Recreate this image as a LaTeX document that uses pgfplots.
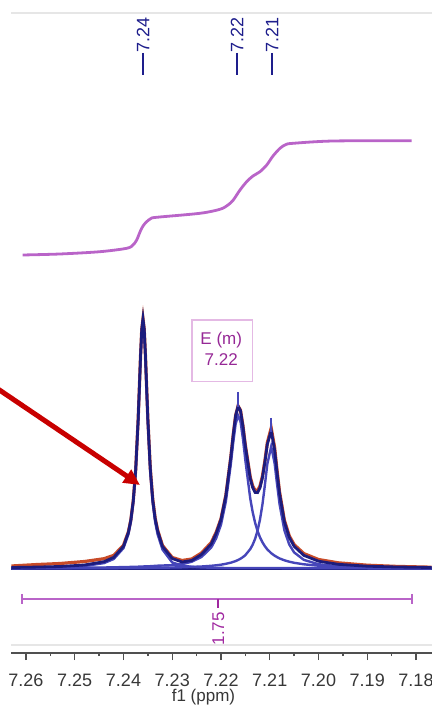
\documentclass[border=0pt]{standalone}
\usepackage{fontspec}
\setmainfont{Liberation Sans}
\usepackage{pgfplots}
\pgfplotsset{compat=1.18}
\usepackage{pgfplotstable}
\usetikzlibrary{arrows.meta}

\definecolor{sumnavy}{RGB}{28,28,125}
\definecolor{compblue}{RGB}{70,70,185}
\definecolor{datared}{RGB}{200,75,40}
\definecolor{peaklbl}{RGB}{30,30,140}
\definecolor{integ}{RGB}{185,100,200}
\definecolor{integtext}{RGB}{160,40,160}
\definecolor{boxc}{RGB}{228,185,228}
\definecolor{boxtext}{RGB}{150,40,150}
\definecolor{arrowred}{RGB}{200,0,0}
\definecolor{framegray}{RGB}{230,230,230}
\definecolor{axisgray}{RGB}{80,80,80}
\definecolor{labelgray}{RGB}{55,55,55}

% spectrum: x in ppm, y in picture units (baseline 138.5)
\pgfplotstableread{
x       sum    red    pa     pb     pc
7.263   139.5  141.0  139.0  138.9  138.7
7.258   139.9  142.4  139.2  139.0  138.7
7.253   140.5  143.5  139.7  139.1  138.7
7.248   142.0  145.5  141.0  139.3  138.8
7.244   145.3  148.3  143.9  139.5  138.9
7.242   149.6  151.6  148.0  139.7  138.9
7.240   160.7  161.7  158.9  139.9  139.0
7.239   174.6  175.1  172.6  140.0  139.0
7.2385  186.8  186.8  184.8  140.1  139.0
7.238   206.1  206.1  203.9  140.2  139.0
7.2375  237.2  237.2  234.9  140.2  139.0
7.237   286.7  286.7  284.3  140.3  139.1
7.23675 318.6  318.6  316.1  140.4  139.1
7.2365  351.5  351.5  349.0  140.4  139.1
7.23625 377.8  377.8  375.2  140.5  139.1
7.236   388.1  388.1  385.5  140.5  139.1
7.23575 377.9  377.9  375.2  140.6  139.1
7.2355  351.7  351.7  349.0  140.6  139.1
7.23525 318.9  319.2  316.1  140.6  139.1
7.235   287.2  287.7  284.3  140.7  139.2
7.2345  237.9  238.6  234.9  140.8  139.2
7.234   207.1  207.8  203.9  141.0  139.2
7.2335  188.1  188.8  184.8  141.1  139.2
7.233   176.2  176.9  172.6  141.3  139.3
7.232   160.5  161.5  157.5  141.5  139.3
7.230   148.5  149.5  144.5  141.8  139.5
7.228   145.0  146.5  141.5  142.8  139.7
7.226   146.5  148.0  140.2  145.3  140.1
7.224   152.5  154.0  139.6  150.0  140.5
7.222   163.0  164.5  139.3  159.5  141.2
7.221   173.4  174.6  139.2  168.6  141.7
7.220   187.5  188.3  139.1  182.3  142.3
7.219   211.4  211.9  139.0  205.5  143.2
7.218   249.2  249.5  139.0  242.3  144.3
7.2175  271.7  271.9  139.0  264.1  145.1
7.217   291.3  291.5  139.0  282.9  145.9
7.2165  300.9  301.0  139.0  291.5  147.0
7.216   296.3  296.8  139.0  285.6  148.3
7.2155  280.6  281.4  139.0  268.3  149.9
7.215   260.8  261.8  139.0  246.6  151.9
7.214   228.6  230.0  139.0  208.5  157.9
7.2135  219.3  221.0  139.0  194.8  162.3
7.213   214.6  216.6  139.0  184.2  168.2
7.2125  214.4  216.4  139.0  176.0  176.3
7.212   219.2  221.0  139.0  169.6  187.5
7.2115  229.3  230.8  139.0  164.7  202.5
7.211   244.7  246.0  139.0  160.8  221.8
7.2105  262.6  264.3  139.0  157.6  242.9
7.2097  276.3  279.0  139.0  153.8  260.5
7.209   257.0  259.5  139.0  151.3  243.7
7.2085  234.5  236.5  139.0  149.9  222.7
7.208   213.8  215.5  139.0  148.6  203.2
7.207   185.3  186.8  138.9  146.7  176.7
7.206   169.7  171.2  138.9  145.3  162.5
7.205   160.7  162.4  138.9  144.2  154.6
7.203   151.6  153.4  138.8  142.7  147.1
7.200   145.8  147.5  138.8  141.3  142.8
7.196   142.7  144.2  138.7  140.3  140.7
7.190   140.8  141.8  138.7  139.6  139.6
7.184   140.0  140.6  138.6  139.2  139.1
7.1768  139.5  139.8  138.6  139.0  138.9
}\spec

% integral curve
\pgfplotstableread{
x        y
7.26068  452
7.25303  453
7.24482  455.3
7.23934  458.7
7.23805  462
7.23729  467
7.23662  475
7.2360   481
7.23524  485.3
7.23436  488.5
7.23319  489.7
7.22431  493.7
7.22021  497.7
7.21856  502
7.21748  507
7.2161   517
7.21473  525.3
7.21344  531
7.2120   535.3
7.21062  542
7.20933  551
7.2079   558.7
7.20667  562.5
7.20517  563.7
7.19697  566
7.18088  566.3
}\integtab

\begin{document}
\begin{tikzpicture}
\useasboundingbox (0,0) rectangle (432bp,707bp);
\clip (0,0) rectangle (432bp,707bp);
\begin{axis}[
  at={(11bp,54bp)}, anchor=south west,
  scale only axis, width=421bp, height=653bp,
  xmin=7.176718, xmax=7.263077, x dir=reverse,
  ymin=54, ymax=707,
  axis x line*=bottom, hide y axis,
  axis line style={-, draw=axisgray, line width=1.8bp},
  x axis line style={-},
  clip=false,
  xtick={7.18,7.19,7.20,7.21,7.22,7.23,7.24,7.25,7.26},
  minor xtick={7.185,7.195,7.205,7.215,7.225,7.235,7.245,7.255},
  tick align=outside, major tick length=7bp, minor tick length=3bp,
  every tick/.style={draw=axisgray, line width=1.3bp},
  xticklabel shift=13.5bp,
  xticklabel style={font=\fontsize{18bp}{18bp}\selectfont, text=labelgray, inner sep=0pt,
    /pgf/number format/fixed, /pgf/number format/fixed zerofill,
    /pgf/number format/precision=2, /pgf/number format/assume math mode=true},
  xlabel={f1 (ppm)},
  xlabel style={at={(axis description cs:0.4572,0)}, anchor=center, yshift=-44.5bp,
    font=\fontsize{17bp}{17bp}\selectfont, text=labelgray, inner sep=0pt},
]
% frame lines
\draw[framegray, line width=2bp] (axis cs:7.263077,694) -- (axis cs:7.176718,694);
\draw[framegray, line width=2bp] (axis cs:7.263077,62) -- (axis cs:7.176718,62);

% baseline
\addplot[sumnavy, line width=3.2bp] coordinates {(7.263,138.5) (7.1768,138.5)};
% experimental data
\addplot[datared, line width=3.2bp] table[x=x, y=red] {\spec};
% fitted components
\addplot[compblue, line width=2.4bp] table[x=x, y=pa] {\spec};
\addplot[compblue, line width=2.4bp] table[x=x, y=pb] {\spec};
\addplot[compblue, line width=2.4bp] table[x=x, y=pc] {\spec};
% fit sum
\addplot[sumnavy, line width=2.8bp] table[x=x, y=sum] {\spec};

% peak markers
\draw[compblue, line width=1.8bp] (axis cs:7.21645,315) -- (axis cs:7.21645,300);
\draw[compblue, line width=1.8bp] (axis cs:7.20974,289) -- (axis cs:7.20974,275);

% integral
\addplot[integ, line width=2.8bp, smooth] table[x=x, y=y] {\integtab};
\addplot[integ, line width=1.8bp] coordinates {(7.26088,108) (7.18076,108)};
\draw[integ, line width=1.8bp] (axis cs:7.26088,113) -- (axis cs:7.26088,103);
\draw[integ, line width=1.8bp] (axis cs:7.18076,113) -- (axis cs:7.18076,103);
\draw[integtext, line width=1.8bp] (axis cs:7.22055,108) -- (axis cs:7.22055,99);
\node[rotate=90, anchor=east, inner sep=0pt, text=integtext,
  font=\fontsize{17bp}{17bp}\selectfont] at (axis cs:7.22055,95) {1.75};

% multiplet box
\draw[boxc, line width=1.5bp] (axis cs:7.22599,387) rectangle (axis cs:7.21354,325.3);
\node[text=boxtext, inner sep=0pt, font=\fontsize{17bp}{17bp}\selectfont] at (axis cs:7.21995,367) {E (m)};
\node[text=boxtext, inner sep=0pt, font=\fontsize{17bp}{17bp}\selectfont] at (axis cs:7.21995,347) {7.22};

% peak labels
\draw[peaklbl, line width=1.5bp] (axis cs:7.2360,654) -- (axis cs:7.2360,632);
\node[rotate=90, anchor=west, inner sep=0pt, text=peaklbl,
  font=\fontsize{18bp}{18bp}\selectfont] at (axis cs:7.2360,654) {7.24};
\draw[peaklbl, line width=1.5bp] (axis cs:7.21672,654) -- (axis cs:7.21672,632);
\node[rotate=90, anchor=west, inner sep=0pt, text=peaklbl,
  font=\fontsize{18bp}{18bp}\selectfont] at (axis cs:7.21672,654) {7.22};
\draw[peaklbl, line width=1.5bp] (axis cs:7.20954,654) -- (axis cs:7.20954,632);
\node[rotate=90, anchor=west, inner sep=0pt, text=peaklbl,
  font=\fontsize{18bp}{18bp}\selectfont] at (axis cs:7.20954,654) {7.21};

% arrow
\draw[arrowred, line width=5bp, -{Triangle[length=16bp,width=15bp]}]
  (axis cs:7.26636,320) -- (axis cs:7.23662,222);
\end{axis}
\end{tikzpicture}
\end{document}
